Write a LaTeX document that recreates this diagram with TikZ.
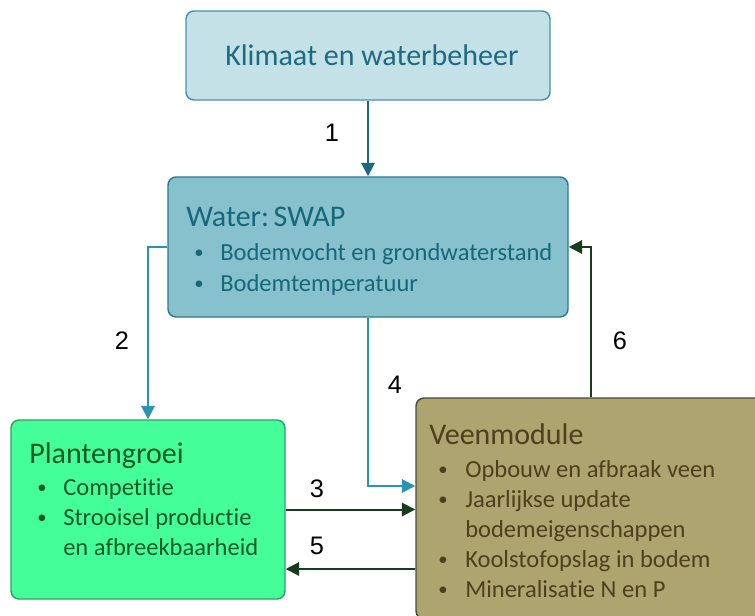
\documentclass[tikz,border=0pt]{standalone}
\usepackage{fontspec}
\setmainfont{Carlito}[Ligatures=NoCommon]
\newfontfamily\numfont{Liberation Sans}
\usetikzlibrary{arrows.meta,calc,positioning}
\definecolor{klimfill}{HTML}{C5E1E8}
\definecolor{klimline}{HTML}{4A93A6}
\definecolor{klimtext}{HTML}{1D6B80}
\definecolor{swapfill}{HTML}{86C1CD}
\definecolor{swapline}{HTML}{2F7A8D}
\definecolor{swaptext}{HTML}{17677B}
\definecolor{plantfill}{HTML}{44FF99}
\definecolor{plantline}{HTML}{2FA060}
\definecolor{planttext}{HTML}{145A22}
\definecolor{veenfill}{HTML}{ADA470}
\definecolor{veenline}{HTML}{4C4A3C}
\definecolor{veentext}{HTML}{4F3F1C}
\definecolor{flowteal}{HTML}{1B6A80}
\definecolor{flowblue}{HTML}{2A93B0}
\definecolor{flowdark}{HTML}{173D1C}

\tikzset{
  modbox/.style={draw, rounded corners=6pt, line width=1.1pt, inner sep=0pt},
  modtitle/.style={anchor=base west, inner sep=0pt, font=\fontsize{22.5}{27}\selectfont},
  moditem/.style={anchor=base west, inner sep=0pt, font=\fontsize{18.4}{22}\selectfont},
  modbullet/.style={anchor=base, inner sep=0pt, font=\fontsize{14}{17}\selectfont, yshift=1pt},
  flow/.style={line width=1.5pt, ->},
  flownum/.style={inner sep=0pt, font=\numfont\fontsize{19}{22}\selectfont, black}
}

\begin{document}
\begin{tikzpicture}[x=0.75pt, y=-0.75pt, >={Triangle[length=10pt,width=10pt]}]

  \useasboundingbox (0,0) rectangle (755,616);

  % ============================================================
  % BOXES
  % ============================================================
  \node[modbox, draw=klimline, fill=klimfill,
        minimum width=273pt, minimum height=66.75pt]
    (klimaat) at (368,55.5) {};
  \node[modbox, draw=swapline, fill=swapfill,
        minimum width=300pt, minimum height=105pt]
    (swap) at (368,247) {};
  \node[modbox, draw=plantline, fill=plantfill,
        minimum width=205.5pt, minimum height=134.25pt]
    (plant) at (148,509.5) {};
  \node[modbox, draw=veenline, fill=veenfill,
        minimum width=261.75pt, minimum height=165.75pt]
    (veen) at (590.5,508.5) {};

  % ============================================================
  % TEXTS
  % ============================================================
  \node[modtitle, klimtext] (klimaat-t) at (225,66) {Klimaat en waterbeheer};

  % Water: SWAP
  \node[modtitle, swaptext] (swap-t) at (186,227) {Water:\hspace{0.15em}SWAP};
  \foreach \yy/\txt in {260/Bodemvocht en grondwaterstand,
                        291/Bodemtemperatuur} {
    \node[modbullet, swaptext] (swap-b\yy) at (199,\yy) {\textbullet};
    \node[moditem, swaptext] (swap-i\yy) at (220,\yy) {\txt};
  }

  % Plantengroei
  \node[modtitle, planttext] (plant-t) at (29,463) {Plantengroei};
  \foreach \yy/\txt in {495/Competitie, 525/Strooisel productie} {
    \node[modbullet, planttext] (plant-b\yy) at (42,\yy) {\textbullet};
    \node[moditem, planttext] (plant-i\yy) at (63,\yy) {\txt};
  }
  \node[moditem, planttext] (plant-i555) at (63,555) {en afbreekbaarheid};

  % Veenmodule
  \node[modtitle, veentext] (veen-t) at (429,444) {Veenmodule};
  \foreach \yy/\txt in {477/Opbouw en afbraak veen, 507/Jaarlijkse update,
                        567/Koolstofopslag in bodem, 597/Mineralisatie N en P} {
    \node[modbullet, veentext] (veen-b\yy) at (443,\yy) {\textbullet};
    \node[moditem, veentext] (veen-i\yy) at (465,\yy) {\txt};
  }
  \node[moditem, veentext] (veen-i537) at (465,537) {bodemeigenschappen};

  % ============================================================
  % CONNECTORS
  % ============================================================
  \coordinate (veen-in4) at ($(veen.west)+(0,-22.5)$);
  \coordinate (veen-out5) at ($(veen.west)+(0,60.5)$);

  \draw[flow, flowteal] (klimaat) -- (swap);
  \draw[flow, flowblue] (swap.west) -| (plant.north);
  \draw[flow, flowblue] (swap.south) |- (veen-in4);
  \draw[flow, flowdark] (plant.east) -- (plant.east -| veen.west);
  \draw[flow, flowdark] (veen-out5) -- (veen-out5 -| plant.east);
  \draw[flow, flowdark] (veen.north) |- (swap.east);

  % Numbers
  \node[flownum] (n1) at (332,133) {1};
  \node[flownum] (n2) at (122,341) {2};
  \node[flownum] (n3) at (317,489) {3};
  \node[flownum] (n4) at (395,385) {4};
  \node[flownum] (n5) at (317,546) {5};
  \node[flownum] (n6) at (620,341) {6};

\end{tikzpicture}
\end{document}
